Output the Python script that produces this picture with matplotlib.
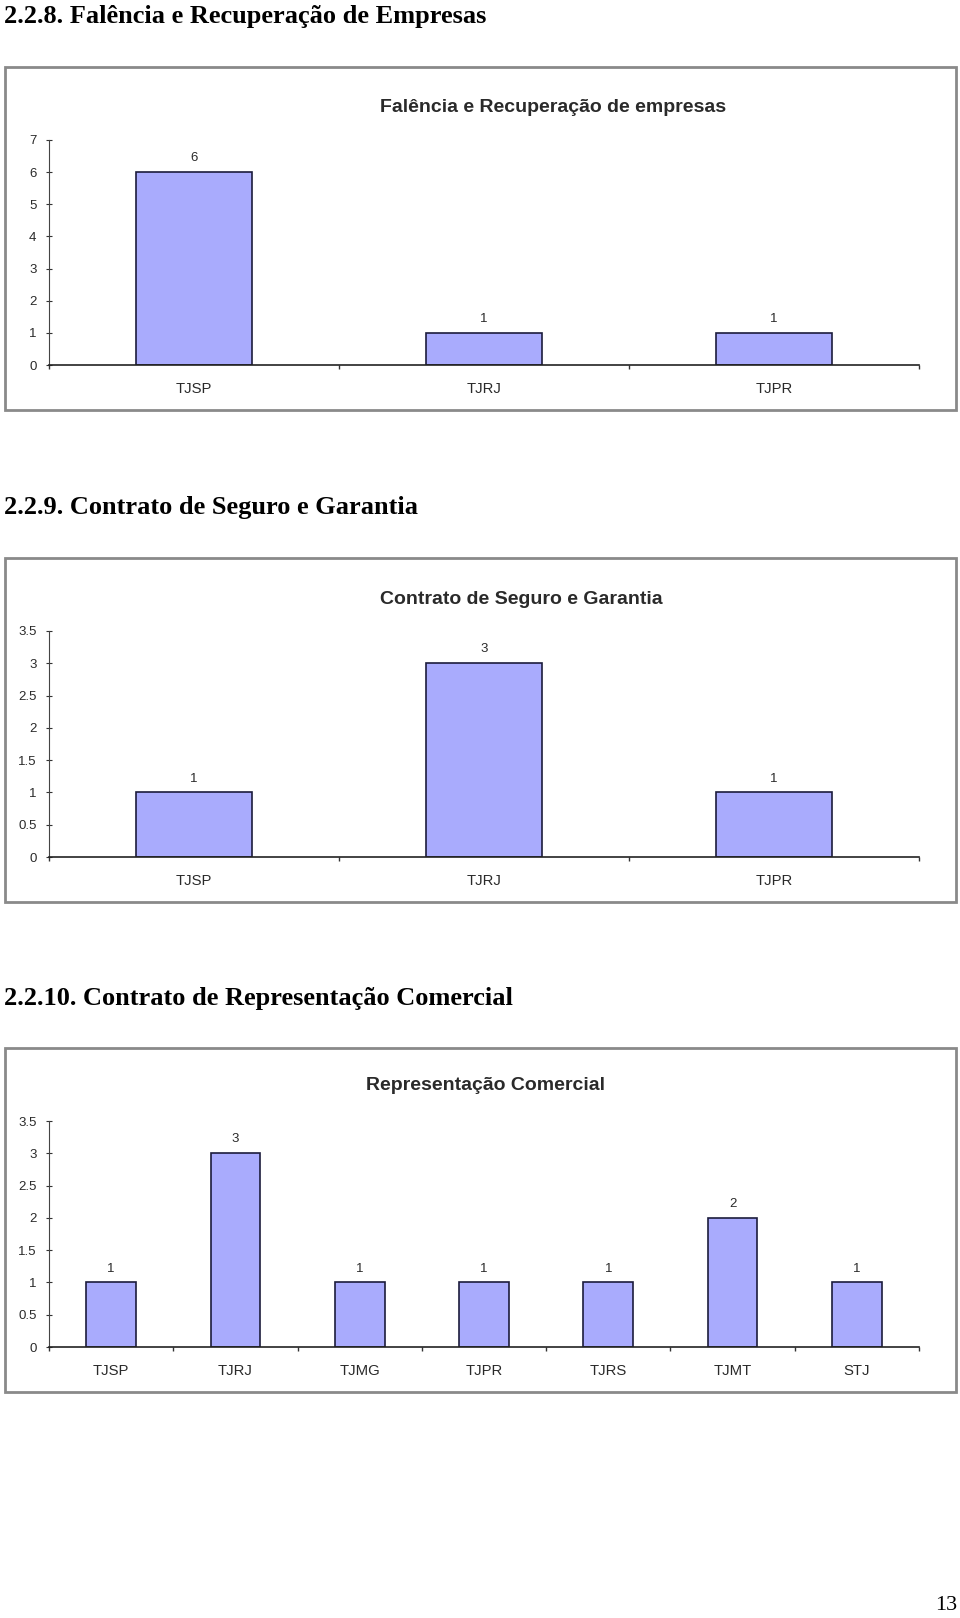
import matplotlib
matplotlib.use("Agg")
import matplotlib.pyplot as plt
from matplotlib.patches import Rectangle
import numpy as np

W, H = 960, 1618

# data
cats_falencia = ['TJSP', 'TJRJ', 'TJPR']
vals_falencia = [6, 1, 1]

cats_seguro = ['TJSP', 'TJRJ', 'TJPR']
vals_seguro = [1, 3, 1]

cats_repr = ['TJSP', 'TJRJ', 'TJMG', 'TJPR', 'TJRS', 'TJMT', 'STJ']
vals_repr = [1, 3, 1, 1, 1, 2, 1]

headings = ['2.2.8. Falência e Recuperação de Empresas',
            '2.2.9. Contrato de Seguro e Garantia',
            '2.2.10. Contrato de Representação Comercial']
titles = ['Falência e Recuperação de empresas',
          'Contrato de Seguro e Garantia',
          'Representação Comercial']

BAR = '#a9abfd'
EDGE = '#1c1c3c'
TXT = '#2a2a2a'


def fx(x):
    return x / W


def fy(y):
    return 1 - y / H


def panel(fig, cats, vals, ymax, ystep, frame_top, frame_bot, axis_top, axis_bot,
          title, title_x, title_y):
    # outer frame
    fig.patches.append(Rectangle((fx(5), fy(frame_bot)), fx(956) - fx(5),
                                 fy(frame_top) - fy(frame_bot),
                                 transform=fig.transFigure, fill=False,
                                 edgecolor='#8a8a8a', linewidth=2))
    ax = fig.add_axes([fx(49), fy(axis_bot), fx(919) - fx(49),
                       fy(axis_top) - fy(axis_bot)])
    n = len(cats)
    x = np.arange(n)
    ax.bar(x, vals, width=0.4, color=BAR, edgecolor=EDGE, linewidth=1.2)
    for xi, v in zip(x, vals):
        ax.text(xi, v + ymax * 0.035, str(v), ha='center', va='bottom',
                fontsize=9.5, color=TXT, family='Liberation Sans')
    ax.set_xlim(-0.5, n - 0.5)
    ax.set_ylim(0, ymax)
    yt = np.arange(0, ymax + ystep / 2, ystep)
    ax.set_yticks(yt)
    ax.set_yticklabels([('%g' % t) for t in yt])
    ax.set_xticks(x)
    ax.set_xticklabels(cats)
    ax.set_xticks(np.arange(n + 1) - 0.5, minor=True)
    ax.tick_params(axis='x', which='major', length=0, pad=12, labelsize=10.7,
                   labelcolor=TXT)
    ax.tick_params(axis='x', which='minor', length=3, direction='out',
                   color='#333333', width=1)
    ax.tick_params(axis='y', length=4, direction='inout', pad=7, labelsize=9.5,
                   labelcolor=TXT, color='#333333')
    for lab in ax.get_xticklabels() + ax.get_yticklabels():
        lab.set_family('Liberation Sans')
    for s in ['top', 'right']:
        ax.spines[s].set_visible(False)
    ax.spines['left'].set_color('#444444')
    ax.spines['bottom'].set_color('#222222')
    ax.spines['bottom'].set_linewidth(1.2)
    fig.text(fx(title_x), fy(title_y), title, ha='center', va='center',
             fontsize=14, fontweight='bold', color=TXT,
             family='Liberation Sans')
    return ax


fig = plt.figure(figsize=(9.6, 16.18), dpi=100)

# section headings
for txt, y in zip(headings, [16, 507, 998]):
    fig.text(fx(4), fy(y), txt, ha='left', va='center', fontsize=19,
             fontweight='bold', family='Liberation Serif', color='black')

panel(fig, cats_falencia, vals_falencia, 7, 1, 67, 410, 140, 365,
      titles[0], 553, 108)
panel(fig, cats_seguro, vals_seguro, 3.5, 0.5, 558, 902, 631, 857,
      titles[1], 521, 599)
panel(fig, cats_repr, vals_repr, 3.5, 0.5, 1048, 1392, 1121, 1347,
      titles[2], 485, 1086)

fig.text(fx(957), fy(1606), '13', ha='right', va='center', fontsize=16,
         family='Liberation Serif', color='black')

fig.savefig('out.png', dpi=100)
